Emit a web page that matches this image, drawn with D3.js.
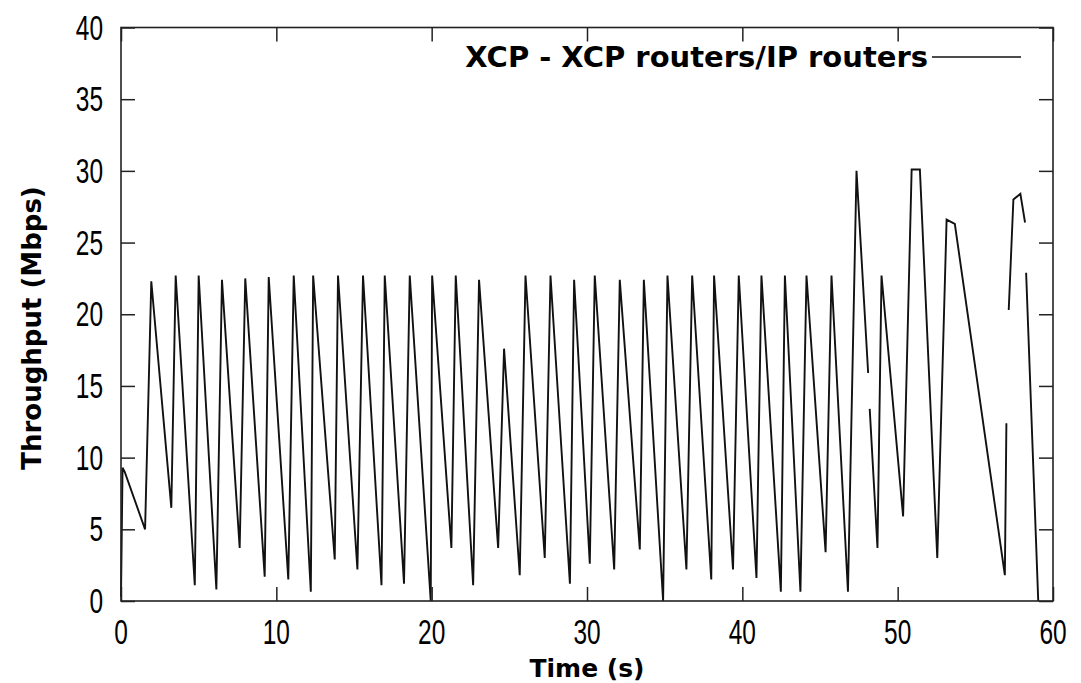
<!DOCTYPE html>
<html>
<head>
<meta charset="utf-8">
<script src="https://cdn.jsdelivr.net/npm/d3@7"></script>
<style>
  body { margin: 0; background: #fff; }
  svg { display: block; }
</style>
</head>
<body>
<svg id="chart" width="1081" height="683"></svg>
<script>
// null marks a break in the trace.
const timeS = [
  0.0, 0.1, 0.24, 1.55, 1.95, 3.24, 3.52, 4.75, 5.0, 6.14,
  6.5, 7.64, 8.0, 9.25, 9.51, 10.77, 11.12, 12.22, 12.37, 13.76,
  13.97, 15.22, 15.58, 16.77, 16.98, 18.22, 18.59, 19.94, 20.03, 21.27,
  21.55, 22.67, 23.05, 24.28, 24.66, 25.67, 26.04, 27.28, 27.65, 28.9,
  29.17, 30.18, 30.5, 31.75, 32.11, 33.4, 33.66, 34.9, 35.18, 36.4,
  36.77, 38.0, 38.18, 39.4, 39.77, 40.91, 41.23, 42.48, 42.74, 43.74,
  44.13, 45.36, 45.74, 46.8, 47.35, 48.1, 48.15, 48.2, 48.7, 48.96,
  50.35, 50.9, 51.43, 52.55, 53.15, 53.68, 56.9, 57.0, 57.08, 57.15,
  57.45, 57.9, 58.2, 58.24, 58.27, 59.05
];
const throughputMbps = [
  0.3, 9.3, 9.0, 5.0, 22.3, 6.5, 22.7, 1.1, 22.7, 0.8,
  22.4, 3.7, 22.5, 1.7, 22.6, 1.5, 22.7, 0.65, 22.7, 2.9,
  22.7, 2.2, 22.7, 1.1, 22.7, 1.2, 22.7, 0.0, 22.7, 3.7,
  22.7, 1.1, 22.4, 3.7, 17.6, 1.8, 22.7, 3.0, 22.7, 1.2,
  22.4, 2.6, 22.7, 2.2, 22.4, 3.6, 22.4, 0.0, 22.7, 2.2,
  22.7, 1.5, 22.7, 2.2, 22.7, 1.6, 22.7, 0.65, 22.7, 0.65,
  22.7, 3.4, 22.7, 0.65, 30.0, 15.9, null, 13.4, 3.7, 22.7,
  5.9, 30.1, 30.1, 3.0, 26.6, 26.3, 1.8, 12.4, null, 20.3,
  28.0, 28.4, 26.4, null, 22.9, 0.0
];
const xTicks = [0, 10, 20, 30, 40, 50, 60];
const yTicks = [0, 5, 10, 15, 20, 25, 30, 35, 40];
const seriesLabel = 'XCP - XCP routers/IP routers';
const xTitle = 'Time (s)';
const yTitle = 'Throughput (Mbps)';

const svg = d3.select('#chart');
const W = 1081, H = 683;
const margin = { top: 27.5, right: 28, bottom: 82, left: 121 };

const x = d3.scaleLinear().domain([0, 60]).range([margin.left, W - margin.right]);
const y = d3.scaleLinear().domain([0, 40]).range([H - margin.bottom, margin.top]);

const points = timeS.map((t, i) => ({ t, v: throughputMbps[i] }));

// Trace
const line = d3.line()
  .defined((d) => d.v != null)
  .x((d) => x(d.t))
  .y((d) => y(d.v));

svg.append('path').datum(points)
  .attr('d', line)
  .attr('fill', 'none')
  .attr('stroke', '#111')
  .attr('stroke-width', 1.9)
  .attr('stroke-linejoin', 'miter');

// Mirrored inward ticks on all four sides (gnuplot style)
const TICK = 14;
const axisStyle = (g) => {
  g.select('.domain').remove();
  g.selectAll('.tick line').attr('stroke', '#222').attr('stroke-width', 1.5);
  g.selectAll('.tick text').remove();
};
svg.append('g').attr('transform', `translate(0,${y(0)})`)
  .call(d3.axisBottom(x).tickValues(xTicks).tickSize(-TICK)).call(axisStyle);
svg.append('g').attr('transform', `translate(0,${y(40)})`)
  .call(d3.axisTop(x).tickValues(xTicks).tickSize(-TICK)).call(axisStyle);
svg.append('g').attr('transform', `translate(${x(0)},0)`)
  .call(d3.axisLeft(y).tickValues(yTicks).tickSize(-TICK)).call(axisStyle);
svg.append('g').attr('transform', `translate(${x(60)},0)`)
  .call(d3.axisRight(y).tickValues(yTicks).tickSize(-TICK)).call(axisStyle);

// Frame
svg.append('rect')
  .attr('x', x(0)).attr('y', y(40))
  .attr('width', x(60) - x(0)).attr('height', y(0) - y(40))
  .attr('fill', 'none').attr('stroke', '#222').attr('stroke-width', 1.6);

// Tick labels: tall, narrow digits
const tickFont = { family: 'Liberation Sans', size: 35, squeeze: 0.7 };
svg.append('g').selectAll('text').data(yTicks).join('text')
  .attr('transform', (d) => `translate(${x(0) - 18},${y(d) + 12}) scale(${tickFont.squeeze},1)`)
  .attr('text-anchor', 'end')
  .style('font-family', tickFont.family)
  .style('font-size', tickFont.size + 'px')
  .text((d) => d);
svg.append('g').selectAll('text').data(xTicks).join('text')
  .attr('transform', (d) => `translate(${x(d)},${y(0) + 43}) scale(${tickFont.squeeze},1)`)
  .attr('text-anchor', 'middle')
  .style('font-family', tickFont.family)
  .style('font-size', tickFont.size + 'px')
  .text((d) => d);

// Axis titles
svg.append('text')
  .attr('x', (x(0) + x(60)) / 2).attr('y', 677)
  .attr('text-anchor', 'middle')
  .style('font-family', 'DejaVu Sans').style('font-weight', 'bold').style('font-size', '25px')
  .text(xTitle);
svg.append('text')
  .attr('transform', `translate(41,328) rotate(-90)`)
  .attr('text-anchor', 'middle')
  .style('font-family', 'DejaVu Sans').style('font-weight', 'bold').style('font-size', '26px')
  .text(yTitle);

// Legend
const legendX = 930, legendY = 57;
svg.append('text')
  .attr('x', legendX - 2).attr('y', legendY + 10)
  .attr('text-anchor', 'end')
  .style('font-family', 'DejaVu Sans').style('font-weight', 'bold').style('font-size', '29px')
  .text(seriesLabel);
svg.append('line')
  .attr('x1', legendX + 2).attr('x2', legendX + 91)
  .attr('y1', legendY).attr('y2', legendY)
  .attr('stroke', '#111').attr('stroke-width', 1.6);
</script>
</body>
</html>
